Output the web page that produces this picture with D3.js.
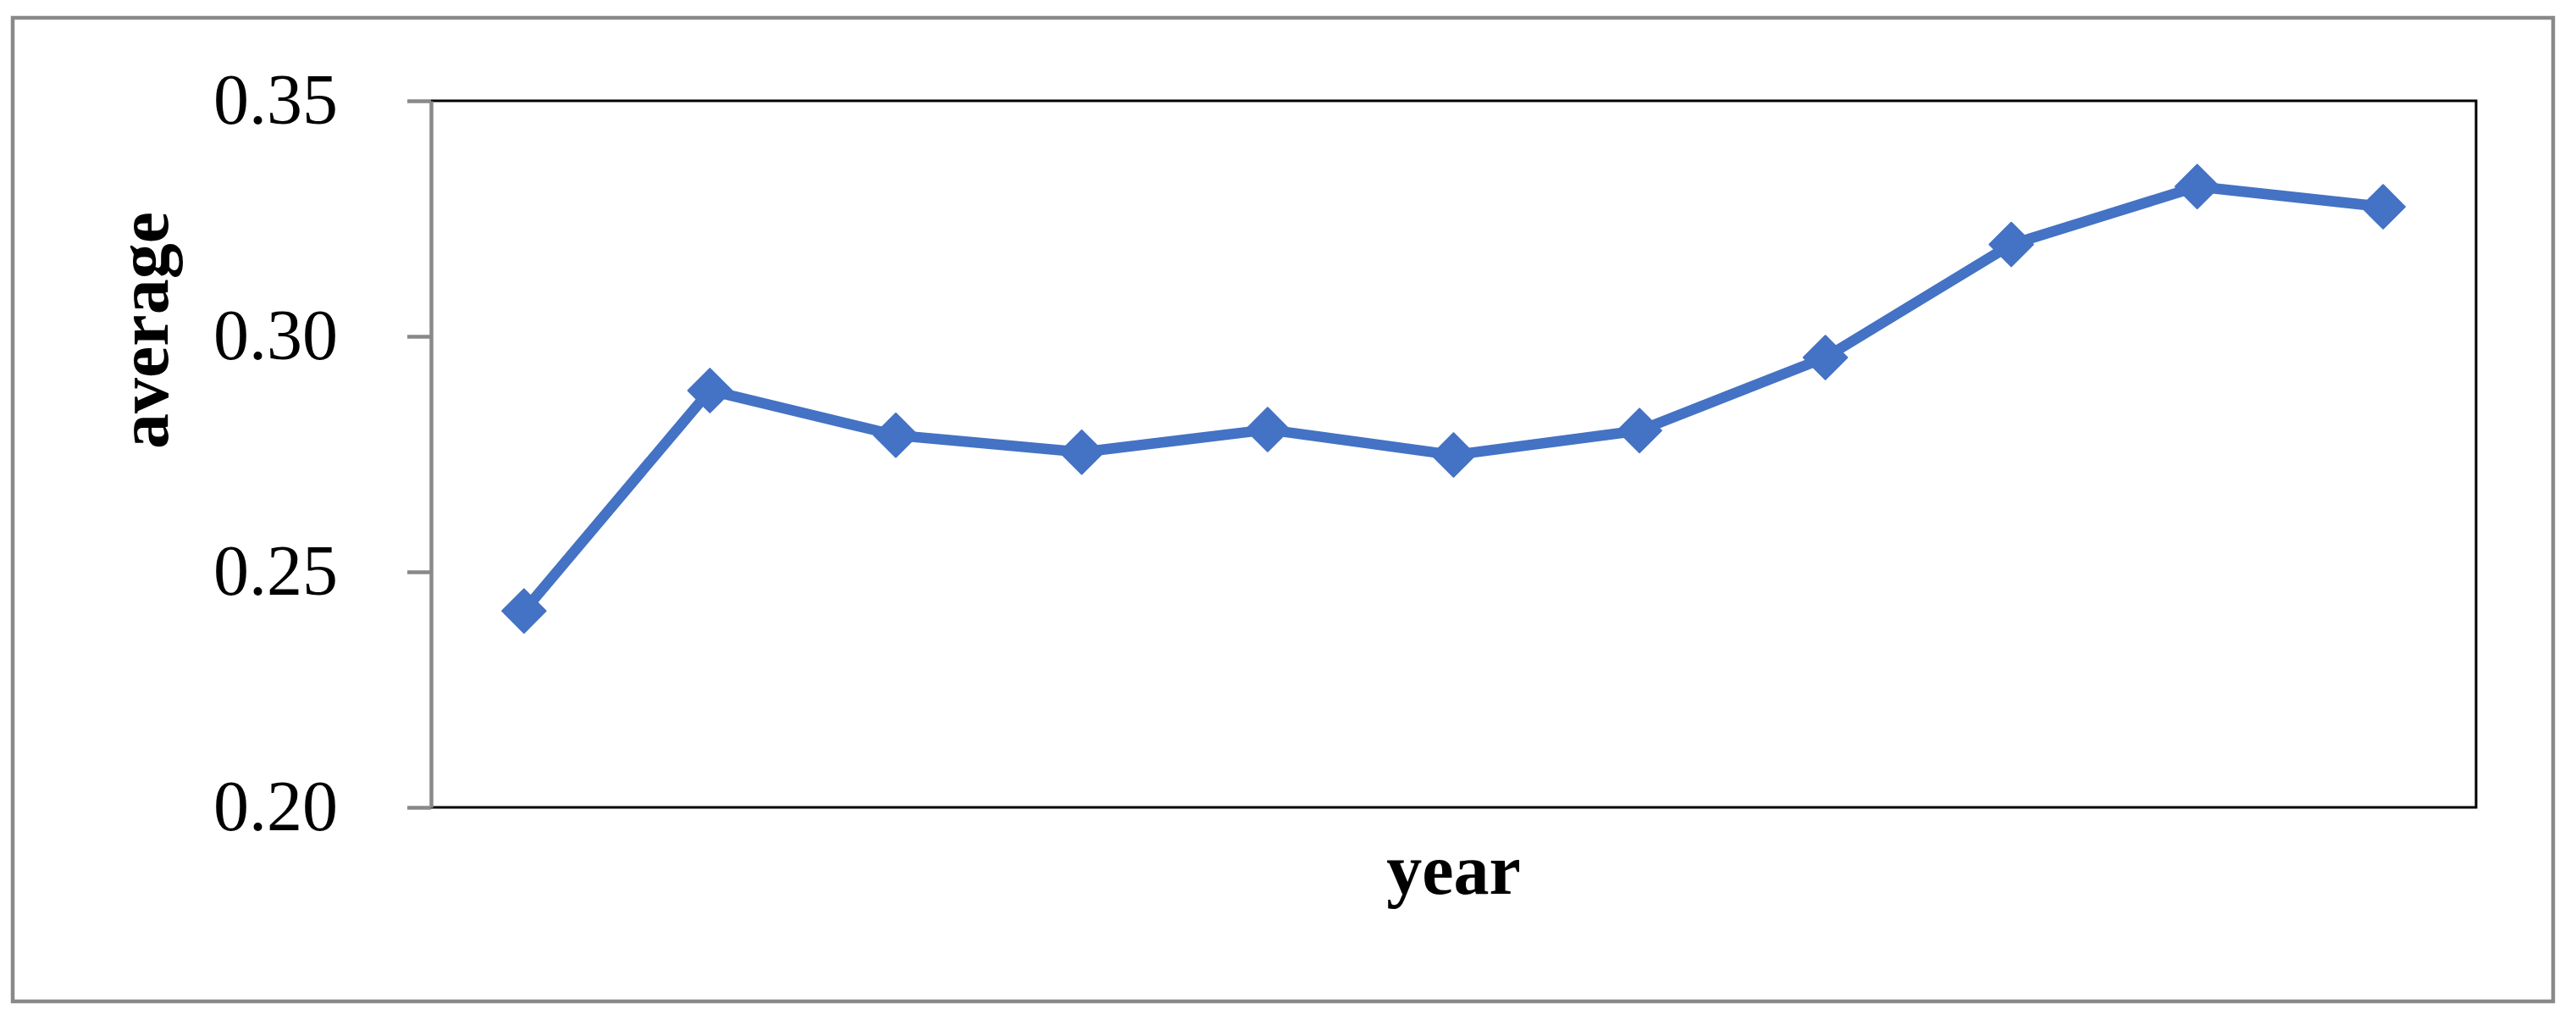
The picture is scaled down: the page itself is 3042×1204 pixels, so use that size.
<!DOCTYPE html>
<html>
<head>
<meta charset="utf-8">
<script src="https://cdn.jsdelivr.net/npm/d3@7"></script>
<style>
  body { margin: 0; background: #fff; }
  svg { display: block; }
</style>
</head>
<body>
<div id="chart"></div>
<script>
// Chart data
var years = ["1", "2", "3", "4", "5", "6", "7", "8", "9", "10", "11"];
var averages = [0.2417, 0.2885, 0.2790, 0.2754, 0.2802, 0.2748, 0.2800, 0.2955, 0.3195, 0.3318, 0.3275];
var yTicks = [0.20, 0.25, 0.30, 0.35];

// Dimensions
var width = 3042, height = 1204;
var plot = { left: 509, right: 2924, top: 119, bottom: 953 };
var fontFamily = "'Liberation Serif', 'Times New Roman', serif";
var gray = "#898989", blue = "#4472C4";

var svg = d3.select("#chart")
    .append("svg")
    .attr("width", width)
    .attr("height", height);

// Outer frame
svg.append("rect")
    .attr("x", 15)
    .attr("y", 21)
    .attr("width", 3000)
    .attr("height", 1161)
    .attr("fill", "none")
    .attr("stroke", gray)
    .attr("stroke-width", 4.5);

// Scales
var x = d3.scalePoint().domain(years).range([plot.left, plot.right]).padding(0.5);
var y = d3.scaleLinear().domain([0.20, 0.35]).range([plot.bottom, plot.top]);

// Plot area border (top, right, bottom in black)
svg.append("path")
    .attr("d", "M" + plot.left + "," + plot.top + "H" + plot.right + "V" + plot.bottom + "H" + plot.left)
    .attr("fill", "none")
    .attr("stroke", "#000")
    .attr("stroke-width", 3);

// Y axis
var yAxis = svg.append("g")
    .attr("transform", "translate(" + plot.left + ",0)")
    .call(d3.axisLeft(y).tickValues(yTicks).tickFormat(d3.format(".2f")).tickSize(28).tickSizeOuter(0).tickPadding(82));

yAxis.select(".domain")
    .attr("stroke", gray)
    .attr("stroke-width", 4.5);
yAxis.selectAll(".tick line")
    .attr("stroke", gray)
    .attr("stroke-width", 4.5);
yAxis.selectAll(".tick text")
    .attr("fill", "#000")
    .style("font-family", fontFamily)
    .style("font-size", "84px");

// Line
var line = d3.line()
    .x(function(d, i) { return x(years[i]); })
    .y(function(d) { return y(d); });

svg.append("path")
    .datum(averages)
    .attr("d", line)
    .attr("fill", "none")
    .attr("stroke", blue)
    .attr("stroke-width", 12.5)
    .attr("stroke-linejoin", "round");

// Diamond markers
svg.selectAll(".marker")
    .data(averages)
    .enter()
    .append("path")
    .attr("class", "marker")
    .attr("d", d3.symbol().type(d3.symbolSquare).size(1330))
    .attr("transform", function(d, i) { return "translate(" + x(years[i]) + "," + y(d) + ") rotate(45)"; })
    .attr("fill", blue)
    .attr("stroke", blue)
    .attr("stroke-width", 2)
    .attr("stroke-linejoin", "round");

// Axis titles
svg.append("text")
    .attr("x", (plot.left + plot.right) / 2)
    .attr("y", 1055)
    .attr("text-anchor", "middle")
    .style("font-family", fontFamily)
    .style("font-size", "84px")
    .style("font-weight", "bold")
    .text("year");

svg.append("text")
    .attr("transform", "translate(198,390) rotate(-90)")
    .attr("text-anchor", "middle")
    .style("font-family", fontFamily)
    .style("font-size", "84px")
    .style("font-weight", "bold")
    .text("average");
</script>
</body>
</html>
